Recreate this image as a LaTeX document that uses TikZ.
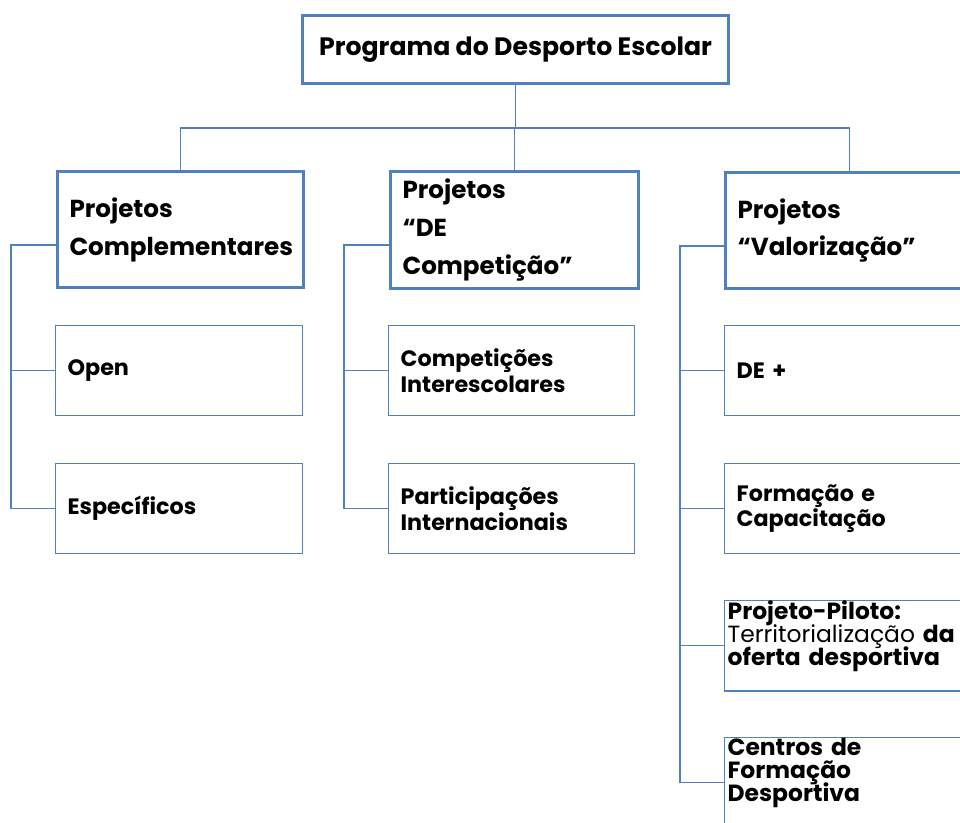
\documentclass[tikz,border=0pt]{standalone}
\usepackage{fontspec}
\setmainfont{Poppins}
\begin{document}
\begin{tikzpicture}[x=0.03cm,y=-0.03cm]
\pgfmathsetlengthmacro\px{0.03cm};
\definecolor{caixaazul}{RGB}{79,129,189}
\tikzset{
  caixa/.style={draw=caixaazul, anchor=north west, inner xsep=12*\px, inner ysep=0pt, align=left},
  chefe/.style={caixa, line width=3*\px, font=\fontsize{21pt}{32.4pt}\selectfont\bfseries},
  folha/.style={caixa, line width=1.3*\px, minimum width=247*\px, text width=223*\px, minimum height=90*\px, font=\fontsize{19pt}{22pt}\selectfont\bfseries},
  apertada/.style={folha, inner xsep=3*\px, text width=241*\px, text depth=61pt, font={\fontsize{20pt}{19.6pt}\selectfont\bfseries\setlength\lineskiplimit{-10pt}}},
  ligacao/.style={draw=caixaazul, line width=1.3*\px}
}
\useasboundingbox (0,0) rectangle (960,823);
\fill[white] (0,0) rectangle (960,823);
\clip (0,0) rectangle (960,823);
\node[chefe, align=center, font=\fontsize{21.5pt}{32.4pt}\selectfont\bfseries, minimum width=426*\px, minimum height=68*\px] (programa) at (301,14) {Programa do Desporto Escolar};
\node[chefe, minimum width=246*\px, text width=222*\px, minimum height=116*\px] (complementares) at (56,170) {Projetos\\Complementares};
\node[chefe, minimum width=248*\px, text width=224*\px, minimum height=117*\px] (competicao) at (389,170) {Projetos\\“DE\\Competição”};
\node[chefe, minimum width=248*\px, text width=224*\px, minimum height=116*\px] (valorizacao) at (724,171) {Projetos\\“Valorização”};
\node[folha] (open) at (55,325) {Open};
\node[folha] (especificos) at (55,463) {Específicos};
\node[folha, minimum width=246*\px, text width=222*\px] (interescolares) at (388,325) {Competições\\Interescolares};
\node[folha, minimum width=246*\px, text width=222*\px] (internacionais) at (388,463) {Participações\\Internacionais};
\node[folha] (demais) at (724,325) {DE +};
\node[folha] (formacao) at (724,463) {Formação e\\Capacitação};
\node[apertada] (piloto) at (724,600) {Projeto-Piloto:\\{\mdseries Territorialização} da\\oferta desportiva};
\node[apertada] (centros) at (724,737) {Centros de\\Formação\\Desportiva};
\foreach \filho in {complementares,competicao,valorizacao} \draw[ligacao] (programa.south) -- ++(0,43) -| (\filho.north);
\foreach \filho in {open,especificos} \draw[ligacao] (complementares.south west) ++(0,-44) -- ++(-45,0) |- (\filho.west);
\foreach \filho in {interescolares,internacionais} \draw[ligacao] (competicao.south west) ++(0,-45) -- ++(-45,0) |- (\filho.west);
\foreach \filho in {demais,formacao,piloto,centros} \draw[ligacao] (valorizacao.south west) ++(0,-44) -- ++(-44,0) |- (\filho.west);
\end{tikzpicture}
\end{document}
